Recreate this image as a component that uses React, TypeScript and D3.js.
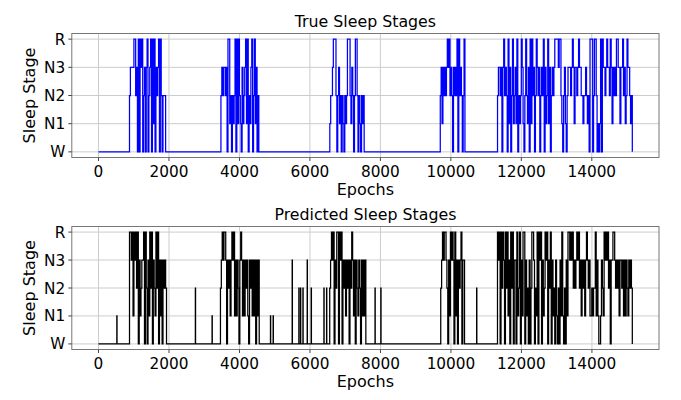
import * as d3 from 'd3';

// Sleep stage codes: 0=W 1=N1 2=N2 3=N3 4=R, one digit per 25-epoch sample
const STEP = 25;
const stageLabels = ['W', 'N1', 'N2', 'N3', 'R'];
const stageTicks = [0, 1, 2, 3, 4];
const epochTicks = [0, 2000, 4000, 6000, 8000, 10000, 12000, 14000];

const trueBouts = [
  { start: 880, stages: '23333442304043402303402340414032340420222' },
  { start: 3475, stages: '2323323044120212404142103123414021340241302' },
  { start: 6565, stages: '122344420231202102124442132024420210212' },
  { start: 9700, stages: '2313232343423203232404232024' },
  {
    start: 11325,
    stages:
      '2332303423' + '2041302412' + '3140212431' + '0242130414' + '2302432302' +
      '3240312413' + '0232344443' + '4421023102' + '3332343133' + '2343322122' +
      '3212044402' + '4420101404' + '3323433243' + '1323244331' + '3342312433' + '212',
  },
];
const trueBlips: [number, number][] = [];

const predBouts = [
  { start: 880, stages: '443414342403123340420314240321424031303232' },
  { start: 3460, stages: '23434430323134341313203431313231032313130313' },
  { start: 6560, stages: '23434032440434032313230324313032132031313' },
  { start: 9710, stages: '234344320314343041303234033' },
  {
    start: 11320,
    stages:
      '4340424304' + '2413042403' + '3041240314' + '4031203024' + '4302140434' +
      '0312434032' + '4031203102' + '0314102031' + '4434342323' + '4342313231' +
      '3432311212' + '2413100132' + '1434342303' + '3443232313' + '3231313213' + '232',
  },
];
// single-epoch predictions inside wake periods: [epoch, stage]
const predBlips: [number, number][] = [
  [520, 1], [2748, 2], [3222, 1], [4879, 1], [4955, 1], [5495, 3], [5684, 2],
  [5732, 2], [5800, 2], [5921, 3], [6035, 2], [6395, 2], [6471, 2], [7845, 2],
  [8010, 2], [10728, 2],
];

type Pt = [number, number];

function buildSeries(bouts: { start: number; stages: string }[], blips: [number, number][]): Pt[] {
  const items = [
    ...bouts.map(b => ({ start: b.start, vals: b.stages.split('').map(Number), step: STEP })),
    ...blips.map(([e, s]) => ({ start: e, vals: [s], step: 6 })),
  ].sort((a, b) => a.start - b.start);
  const pts: Pt[] = [[0, 0]];
  items.forEach(it => {
    it.vals.forEach((v, i) => pts.push([it.start + i * it.step, v]));
    pts.push([it.start + it.vals.length * it.step, 0]);
  });
  return pts;
}

const W = 681;
const H = 400;
const LEFT = 71.8;
const RIGHT = 659;

const font = 'DejaVu Sans, sans-serif';

function Panel({ data, color, title, top, bottom }: { data: Pt[]; color: string; title: string; top: number; bottom: number }) {
  const [x0, x1] = d3.extent(data, d => d[0]) as [number, number];
  const pad = (x1 - x0) * 0.05;
  const x = d3.scaleLinear().domain([x0 - pad, x1 + pad]).range([LEFT, RIGHT]);
  const y = d3.scaleLinear().domain([-0.2, 4.2]).range([bottom, top]);
  const line = d3.line<Pt>().x(d => x(d[0])).y(d => y(d[1])).curve(d3.curveStepAfter);
  const midX = (LEFT + RIGHT) / 2;
  const midY = (top + bottom) / 2;
  return (
    <g>
      {epochTicks.map(t => (
        <line key={'gx' + t} x1={x(t)} x2={x(t)} y1={top} y2={bottom} stroke="#cccccc" strokeWidth={1} />
      ))}
      {stageTicks.map(t => (
        <line key={'gy' + t} x1={LEFT} x2={RIGHT} y1={y(t)} y2={y(t)} stroke="#cccccc" strokeWidth={1} />
      ))}
      <path d={line(data) ?? ''} fill="none" stroke={color} strokeWidth={1.25} />
      <rect x={LEFT} y={top} width={RIGHT - LEFT} height={bottom - top} fill="none" stroke="#777" strokeWidth={1} />
      {epochTicks.map(t => (
        <g key={'tx' + t}>
          <line x1={x(t)} x2={x(t)} y1={bottom} y2={bottom + 3.5} stroke="#444" />
          <text x={x(t)} y={bottom + 19.5} textAnchor="middle" fontSize={15.3} fontFamily={font} fill="#000">
            {t}
          </text>
        </g>
      ))}
      {stageTicks.map(t => (
        <g key={'ty' + t}>
          <line x1={LEFT - 3.5} x2={LEFT} y1={y(t)} y2={y(t)} stroke="#444" />
          <text x={LEFT - 6.5} y={y(t)} dy="0.36em" textAnchor="end" fontSize={15.3} fontFamily={font} fill="#000">
            {stageLabels[t]}
          </text>
        </g>
      ))}
      <text x={midX} y={top - 6.5} textAnchor="middle" fontSize={15.8} fontFamily={font} fill="#000">
        {title}
      </text>
      <text x={midX} y={bottom + 37} textAnchor="middle" fontSize={16} fontFamily={font} fill="#000">
        Epochs
      </text>
      <text
        transform={`translate(35,${midY}) rotate(-90)`}
        textAnchor="middle"
        fontSize={16}
        fontFamily={font}
        fill="#000"
      >
        Sleep Stage
      </text>
    </g>
  );
}

export default function App() {
  const trueSeries = buildSeries(trueBouts, trueBlips);
  const predSeries = buildSeries(predBouts, predBlips);
  return (
    <svg width={W} height={H} style={{ position: 'absolute', left: 0, top: 0, background: '#fff' }}>
      <Panel data={trueSeries} color="#0000ff" title="True Sleep Stages" top={33.5} bottom={157.5} />
      <Panel data={predSeries} color="#000000" title="Predicted Sleep Stages" top={226.5} bottom={349.5} />
    </svg>
  );
}
